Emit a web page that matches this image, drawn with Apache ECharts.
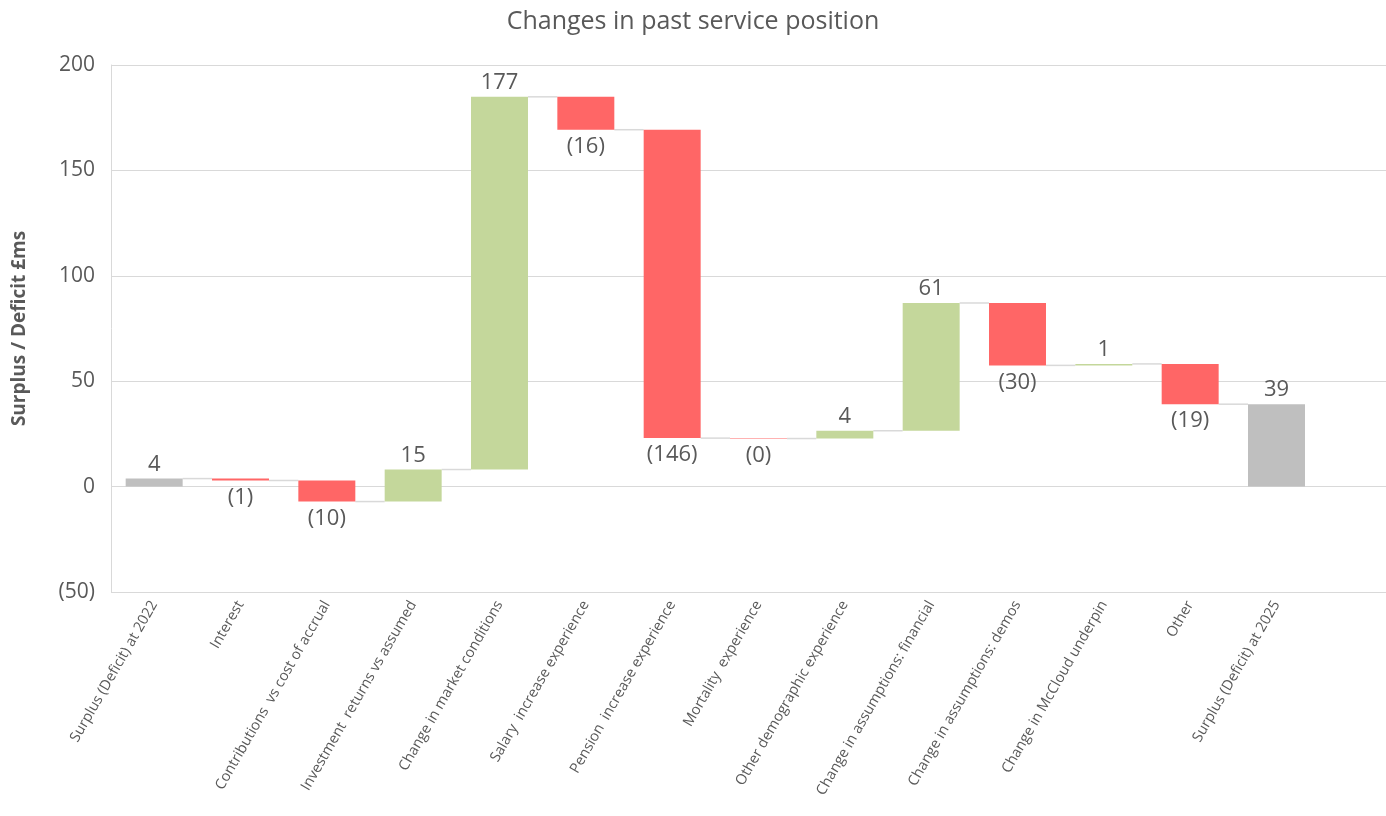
<!DOCTYPE html>
<html>
<head>
<meta charset="utf-8">
<script src="https://cdn.jsdelivr.net/npm/echarts@6/dist/echarts.min.js"></script>
<style>
  html, body { margin: 0; padding: 0; background: #fff; }
  #chart { width: 1386px; height: 816px; }
</style>
</head>
<body>
<div id="chart"></div>
<script>
// categories along the x axis
const categories = [
  'Surplus (Deficit) at 2022',
  'Interest',
  'Contributions  vs cost of accrual',
  'Investment  returns vs assumed',
  'Change in market conditions',
  'Salary  increase experience',
  'Pension  increase experience',
  'Mortality  experience',
  'Other demographic experience',
  'Change in assumptions: financial',
  'Change in assumptions: demos',
  'Change in McCloud underpin',
  'Other',
  'Surplus (Deficit) at 2025'
];
// start position and movements (£m)
const openingValue = 3.8;
const changes = [-0.9, -10.0, 15.2, 176.8, -15.6, -146.3, -0.2, 3.7, 60.6, -29.6, 0.7, -19.1];
const closingValue = 39.1;

const yTicks = { min: -50, max: 200, interval: 50 };

const colors = { total: '#BFBFBF', up: '#C4D79B', down: '#FF6666', text: '#595959', connector: '#D9D9D9' };
const barRatio = 0.66;

// build [index, from, to, kind] rows
const bars = [];
bars.push([0, 0, openingValue, 'total']);
let level = openingValue;
changes.forEach((c, i) => {
  bars.push([i + 1, level, level + c, c >= 0 ? 'up' : 'down']);
  level += c;
});
bars.push([categories.length - 1, 0, closingValue, 'total']);

// connector levels between neighbouring bars
const connectors = bars.slice(0, -1).map(b => [b[0], b[2]]);

const fmt = v => {
  const r = Math.round(Math.abs(v));
  return v < 0 ? '(' + r + ')' : String(r);
};

const chart = echarts.init(document.getElementById('chart'));
chart.setOption({
  animation: false,
  textStyle: { fontFamily: 'Open Sans' },
  title: {
    text: 'Changes in past service position',
    left: 'center', top: 4,
    textStyle: { fontSize: 25, fontWeight: 'normal', color: colors.text }
  },
  // the original plot area runs past the right edge of the picture (one empty slot)
  grid: { left: 111, right: -20, top: 65, bottom: 224, containLabel: false, outerBoundsMode: 'none' },
  xAxis: {
    type: 'category',
    data: categories.concat(['']),
    axisLine: { show: false },
    axisTick: { show: false },
    axisLabel: { rotate: 60, fontSize: 14.5, color: colors.text, margin: 10, interval: 0 }
  },
  yAxis: {
    type: 'value',
    min: yTicks.min, max: yTicks.max, interval: yTicks.interval,
    name: 'Surplus / Deficit £ms',
    nameLocation: 'middle',
    nameGap: 82,
    nameTextStyle: { fontSize: 19, fontWeight: 'bold', color: colors.text },
    axisLine: { show: true, lineStyle: { color: '#D9D9D9' } },
    axisTick: { show: false },
    axisLabel: { fontSize: 21, color: colors.text, margin: 16, formatter: fmt },
    splitLine: { lineStyle: { color: '#D9D9D9' } }
  },
  series: [
    {
      type: 'custom',
      data: connectors,
      encode: { x: 0, y: 1 },
      renderItem: (params, api) => {
        const i = api.value(0);
        const half = api.size([1, 0])[0] * barRatio / 2;
        const p1 = api.coord([i, api.value(1)]);
        const p2 = api.coord([i + 1, api.value(1)]);
        return {
          type: 'line',
          shape: { x1: p1[0] + half, y1: p1[1], x2: p2[0] - half, y2: p2[1] },
          style: { stroke: colors.connector, lineWidth: 1.5 }
        };
      }
    },
    {
      type: 'custom',
      data: bars,
      encode: { x: 0, y: [1, 2] },
      renderItem: (params, api) => {
        const i = api.value(0);
        const from = api.value(1);
        const to = api.value(2);
        const kind = bars[params.dataIndex][3];
        const w = api.size([1, 0])[0] * barRatio;
        const a = api.coord([i, from]);
        const b = api.coord([i, to]);
        const top = Math.min(a[1], b[1]);
        const h = Math.abs(a[1] - b[1]);
        const below = kind === 'down';
        return {
          type: 'group',
          children: [
            {
              type: 'rect',
              shape: { x: a[0] - w / 2, y: top, width: w, height: h },
              style: { fill: colors[kind] }
            },
            {
              type: 'text',
              x: a[0],
              y: below ? top + h + 6 : top - 3,
              style: {
                text: fmt(kind === 'total' ? to : to - from),
                fill: colors.text,
                font: '22px "Open Sans"',
                align: 'center',
                verticalAlign: below ? 'top' : 'bottom'
              }
            }
          ]
        };
      }
    }
  ]
});
</script>
</body>
</html>
